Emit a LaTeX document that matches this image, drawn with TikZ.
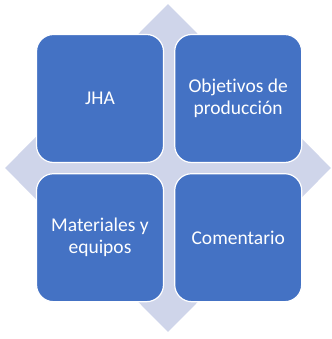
\documentclass[tikz,border=0pt]{standalone}
\usepackage{fontspec}
\setmainfont[Ligatures=NoCommon]{Carlito}
\usepackage{xcolor}
\usetikzlibrary{shapes.geometric,positioning}

\definecolor{cardblue}{HTML}{4472C4}
\definecolor{backlav}{HTML}{CFD5EA}

\begin{document}
\begin{tikzpicture}[
  node distance=10pt and 10pt,
  card/.style={draw=white, line width=1.2pt, fill=cardblue, rounded corners=17pt,
               minimum width=127pt, minimum height=128pt, align=center,
               text=white, font=\fontsize{19.5}{22}\selectfont},
  back/.style={diamond, fill=backlav, minimum width=326pt, minimum height=328pt,
               inner sep=0pt}
]
\useasboundingbox (0,0) rectangle (331pt,339pt);
\node[back] (bg) at (168pt,171pt) {};
\node[card] (jha) at (100pt,240.5pt) {JHA};
\node[card, right=of jha] (obj) {Objetivos de\\producción};
\node[card, below=of jha] (mat) {Materiales y\\equipos};
\node[card, right=of mat] (com) {Comentario};
\end{tikzpicture}
\end{document}
